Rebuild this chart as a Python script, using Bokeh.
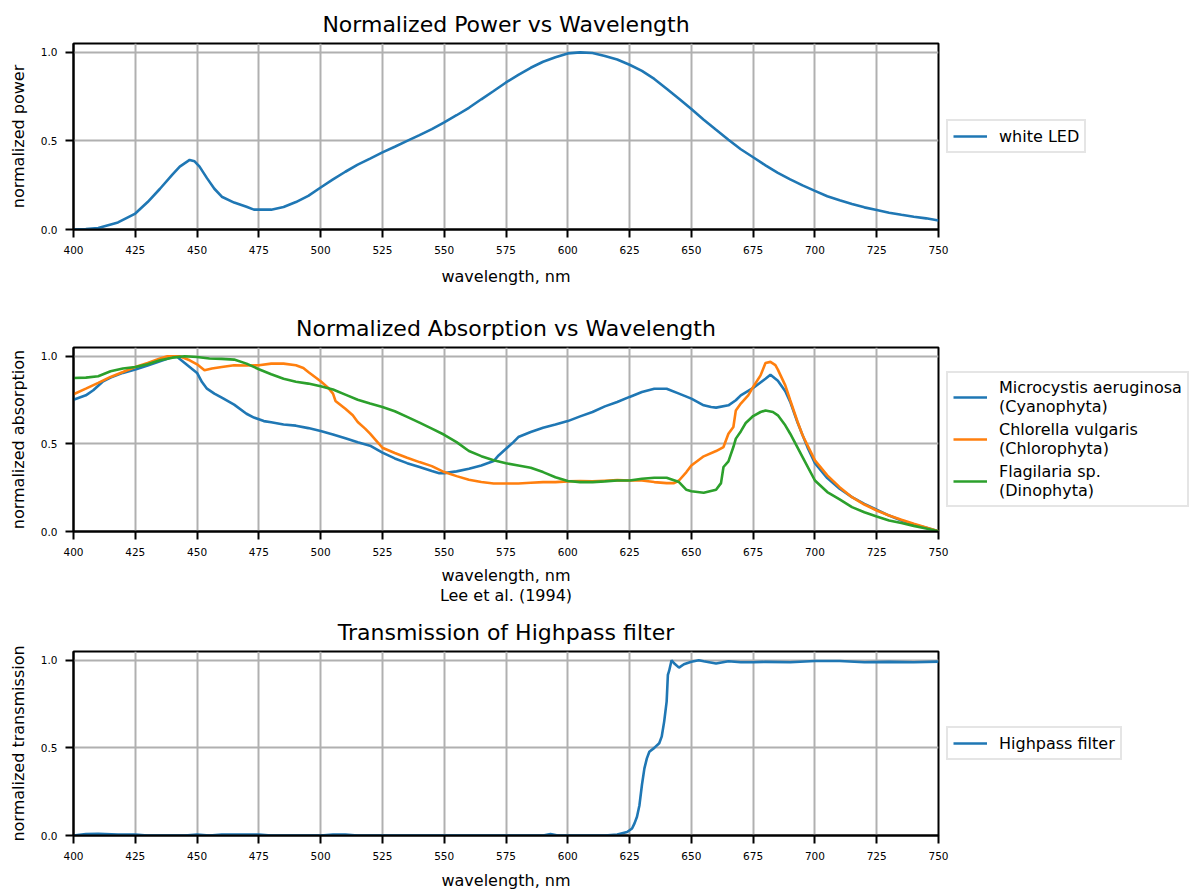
from bokeh.plotting import figure
from bokeh.layouts import column
from bokeh.models import (FixedTicker, PrintfTickFormatter, Legend, LegendItem,
                          Range1d)
from bokeh.embed import file_html
from bokeh.resources import INLINE

FONT = "DejaVu Sans"
C0, C1, C2 = "#1f77b4", "#ff7f0e", "#2ca02c"

# ---- white LED emission spectrum ----
led_nm = [400, 405, 410, 418, 425, 430, 435, 440, 443, 447, 449, 451, 454, 457,
          460, 465, 470, 473, 480, 485, 490, 495, 500, 505, 510, 515, 520, 525,
          530, 535, 540, 545, 550, 555, 560, 565, 570, 575, 580, 585, 590, 595,
          600, 605, 610, 615, 620, 625, 630, 635, 640, 645, 650, 655, 660, 665,
          670, 675, 680, 685, 690, 695, 700, 705, 710, 715, 720, 725, 730, 735,
          740, 745, 750]
led_power = [0.0, 0.002, 0.008, 0.04, 0.09, 0.155, 0.23, 0.31, 0.355, 0.393,
             0.385, 0.355, 0.29, 0.23, 0.185, 0.152, 0.128, 0.112, 0.112, 0.127,
             0.155, 0.19, 0.237, 0.283, 0.326, 0.366, 0.40, 0.435, 0.467, 0.50,
             0.533, 0.567, 0.605, 0.645, 0.687, 0.735, 0.782, 0.83, 0.873, 0.913,
             0.947, 0.972, 0.994, 1.0, 0.996, 0.98, 0.96, 0.93, 0.895, 0.85,
             0.795, 0.738, 0.68, 0.62, 0.563, 0.507, 0.453, 0.408, 0.362, 0.32,
             0.283, 0.249, 0.218, 0.188, 0.165, 0.144, 0.125, 0.11, 0.095, 0.083,
             0.072, 0.063, 0.051]

# ---- algae absorption spectra (Lee et al., 1994) ----
micro_nm = [400, 405, 408, 412, 415, 420, 425, 430, 435, 440, 442, 445, 450, 452,
            454, 457, 460, 465, 470, 473, 477, 480, 485, 490, 495, 500, 505, 510,
            515, 520, 525, 530, 535, 540, 545, 548, 550, 555, 560, 565, 570, 572,
            575, 578, 580, 585, 590, 595, 600, 605, 610, 615, 620, 625, 630, 635,
            640, 645, 650, 655, 658, 660, 665, 668, 670, 675, 680, 682, 685, 688,
            690, 693, 695, 697, 700, 705, 710, 715, 720, 725, 730, 735, 740, 745,
            750]
micro_abs = [0.752, 0.777, 0.806, 0.857, 0.878, 0.905, 0.924, 0.947, 0.971, 0.996,
             0.996, 0.962, 0.905, 0.853, 0.815, 0.787, 0.764, 0.724, 0.672, 0.65,
             0.63, 0.623, 0.611, 0.604, 0.59, 0.573, 0.554, 0.532, 0.509, 0.49,
             0.45, 0.417, 0.39, 0.368, 0.345, 0.333, 0.333, 0.343, 0.358, 0.377,
             0.402, 0.434, 0.472, 0.51, 0.539, 0.568, 0.592, 0.61, 0.63, 0.657,
             0.682, 0.714, 0.739, 0.768, 0.796, 0.815, 0.815, 0.787, 0.758, 0.72,
             0.71, 0.707, 0.72, 0.749, 0.777, 0.819, 0.872, 0.895, 0.86, 0.80,
             0.74, 0.62, 0.55, 0.48, 0.39, 0.305, 0.244, 0.196, 0.158, 0.124,
             0.091, 0.063, 0.04, 0.021, 0.002]

chlor_nm = [400, 405, 410, 415, 420, 425, 430, 435, 438, 443, 447, 450, 453, 456,
            460, 465, 470, 475, 480, 485, 490, 493, 495, 500, 503, 505, 506, 510,
            513, 515, 518, 520, 523, 525, 530, 535, 540, 545, 550, 555, 560, 565,
            570, 575, 580, 585, 590, 595, 600, 605, 610, 615, 620, 625, 630, 635,
            640, 643, 645, 648, 650, 655, 660, 663, 665, 667, 668, 670, 673, 675,
            678, 680, 682, 684, 685, 688, 690, 693, 695, 700, 705, 710, 715, 720,
            725, 730, 735, 740, 745, 750]
chlor_abs = [0.783, 0.815, 0.848, 0.882, 0.91, 0.939, 0.962, 0.987, 1.0, 1.0,
             0.977, 0.954, 0.92, 0.93, 0.939, 0.949, 0.947, 0.949, 0.958, 0.958,
             0.949, 0.933, 0.91, 0.857, 0.821, 0.787, 0.745, 0.70, 0.663, 0.625,
             0.587, 0.558, 0.51, 0.478, 0.448, 0.421, 0.396, 0.373, 0.339, 0.316,
             0.295, 0.282, 0.274, 0.274, 0.274, 0.278, 0.282, 0.282, 0.286, 0.288,
             0.286, 0.29, 0.293, 0.291, 0.291, 0.282, 0.276, 0.276, 0.291, 0.339,
             0.377, 0.429, 0.459, 0.482, 0.558, 0.596, 0.691, 0.73, 0.777, 0.825,
             0.891, 0.962, 0.968, 0.949, 0.924, 0.834, 0.749, 0.625, 0.549, 0.406,
             0.32, 0.253, 0.196, 0.154, 0.12, 0.091, 0.067, 0.044, 0.023, 0.002]

flag_nm = [400, 405, 410, 415, 420, 425, 430, 435, 440, 445, 450, 455, 460, 465,
           470, 475, 480, 485, 490, 495, 500, 505, 510, 515, 520, 525, 530, 535,
           540, 545, 550, 555, 560, 565, 570, 575, 580, 585, 590, 595, 600, 605,
           610, 615, 620, 625, 630, 635, 640, 645, 648, 650, 655, 660, 662, 663,
           665, 667, 668, 670, 672, 675, 678, 680, 683, 685, 688, 690, 695, 700,
           705, 710, 715, 720, 725, 730, 735, 740, 745, 750]
flag_abs = [0.876, 0.878, 0.886, 0.914, 0.93, 0.939, 0.954, 0.977, 0.992, 1.0,
            0.996, 0.987, 0.985, 0.981, 0.958, 0.926, 0.897, 0.872, 0.855, 0.844,
            0.829, 0.81, 0.781, 0.752, 0.73, 0.71, 0.686, 0.654, 0.621, 0.587,
            0.552, 0.51, 0.459, 0.43, 0.406, 0.389, 0.377, 0.364, 0.339, 0.31,
            0.288, 0.282, 0.282, 0.286, 0.291, 0.291, 0.301, 0.307, 0.307, 0.282,
            0.238, 0.23, 0.221, 0.238, 0.276, 0.368, 0.40, 0.482, 0.53, 0.571,
            0.619, 0.659, 0.682, 0.691, 0.682, 0.663, 0.606, 0.558, 0.425, 0.291,
            0.225, 0.183, 0.139, 0.11, 0.086, 0.063, 0.048, 0.032, 0.017, 0.002]

# ---- highpass filter transmission ----
hp_nm = [400, 405, 410, 418, 425, 430, 445, 450, 455, 460, 468, 475, 480, 500,
         505, 510, 515, 580, 590, 593, 596, 600, 615, 620, 624, 626, 627, 628,
         629, 630, 631, 632, 633, 635, 637, 638, 639, 640, 640.5, 641, 642, 643,
         645, 647, 650, 653, 655, 660, 665, 670, 675, 680, 690, 700, 710, 720,
         730, 740, 750]
hp_trans = [0.0, 0.008, 0.01, 0.006, 0.005, 0.0, 0.0, 0.005, 0.0, 0.005, 0.006,
            0.005, 0.0, 0.0, 0.006, 0.005, 0.0, 0.0, 0.0, 0.008, 0.0, 0.0, 0.0,
            0.006, 0.02, 0.04, 0.069, 0.107, 0.173, 0.288, 0.383, 0.44, 0.478,
            0.50, 0.526, 0.564, 0.65, 0.764, 0.916, 0.939, 1.0, 0.983, 0.958,
            0.977, 0.992, 1.0, 0.994, 0.981, 0.994, 0.989, 0.989, 0.991, 0.989,
            0.996, 0.996, 0.989, 0.991, 0.989, 0.992]

x_ticks = [400, 425, 450, 475, 500, 525, 550, 575, 600, 625, 650, 675, 700, 725, 750]
y_ticks = [0.0, 0.5, 1.0]


def make_panel(title, ylabel, xlabel, border_top, frame_h, border_bottom,
               xlabel_standoff=10):
    p = figure(frame_width=865, frame_height=frame_h,
               min_border_left=73, min_border_right=255,
               min_border_top=border_top, min_border_bottom=border_bottom,
               x_range=Range1d(400, 750), y_range=Range1d(0, 1.05),
               output_backend="svg", toolbar_location=None, title=title)
    p.title.text_font = FONT
    p.title.text_font_size = "22px"
    p.title.text_font_style = "normal"
    p.title.text_color = "black"
    p.title.align = "center"
    p.title.standoff = 14
    p.outline_line_color = "black"
    p.outline_line_width = 2
    p.background_fill_color = "white"
    p.border_fill_color = "white"

    p.xaxis.ticker = FixedTicker(ticks=x_ticks)
    p.yaxis.ticker = FixedTicker(ticks=y_ticks)
    p.yaxis.formatter = PrintfTickFormatter(format="%.1f")
    p.xaxis.axis_label = xlabel
    p.yaxis.axis_label = ylabel
    for ax in (p.xaxis, p.yaxis):
        ax.axis_line_color = "black"
        ax.axis_line_width = 2
        ax.major_tick_in = 0
        ax.major_tick_out = 8
        ax.major_tick_line_width = 2
        ax.major_tick_line_color = "black"
        ax.minor_tick_line_color = None
        ax.major_label_text_font = FONT
        ax.major_label_text_font_size = "10.5px"
        ax.major_label_text_color = "black"
        ax.major_label_standoff = 8
        ax.axis_label_text_font = FONT
        ax.axis_label_text_font_size = "16px"
        ax.axis_label_text_font_style = "normal"
        ax.axis_label_text_color = "black"
        ax.axis_label_standoff = 10
    p.xaxis.axis_label_standoff = xlabel_standoff
    p.xaxis.axis_label_text_line_height = 1.1
    p.xgrid.ticker = FixedTicker(ticks=x_ticks)
    p.ygrid.ticker = FixedTicker(ticks=y_ticks)
    p.grid.grid_line_color = "#b0b0b0"
    p.grid.grid_line_width = 2
    return p


def add_legend(p, items):
    leg = Legend(items=items, location="center_left")
    leg.label_text_font = FONT
    leg.label_text_font_size = "16px"
    leg.label_text_color = "black"
    leg.glyph_width = 34
    leg.glyph_height = 20
    leg.label_standoff = 12
    leg.padding = 5
    leg.spacing = 4
    leg.margin = 8
    leg.border_line_color = "#cccccc"
    leg.border_line_width = 2
    leg.background_fill_color = "white"
    leg.background_fill_alpha = 1.0
    p.add_layout(leg, "right")


LW = 2.6

# top: LED spectrum
p1 = make_panel("Normalized Power vs Wavelength", "normalized power",
                "wavelength, nm", 43, 186, 71)
r_led = p1.line(led_nm, led_power, line_color=C0, line_width=LW)
add_legend(p1, [LegendItem(label="white LED", renderers=[r_led])])

# middle: absorption spectra
p2 = make_panel("Normalized Absorption vs Wavelength", "normalized absorption",
                "wavelength, nm\nLee et al. (1994)", 47, 184, 79,
                xlabel_standoff=7)
r_mic = p2.line(micro_nm, micro_abs, line_color=C0, line_width=LW)
r_chl = p2.line(chlor_nm, chlor_abs, line_color=C1, line_width=LW)
r_fla = p2.line(flag_nm, flag_abs, line_color=C2, line_width=LW)
add_legend(p2, [
    LegendItem(label="Microcystis aeruginosa\n(Cyanophyta)", renderers=[r_mic]),
    LegendItem(label="Chlorella vulgaris\n(Chlorophyta)", renderers=[r_chl]),
    LegendItem(label="Flagilaria sp.\n(Dinophyta)", renderers=[r_fla]),
])

# bottom: highpass filter
p3 = make_panel("Transmission of Highpass filter", "normalized transmission",
                "wavelength, nm", 40, 184, 54, xlabel_standoff=8)
r_hp = p3.line(hp_nm, hp_trans, line_color=C0, line_width=LW)
add_legend(p3, [LegendItem(label="Highpass filter", renderers=[r_hp])])

layout = column(p1, p2, p3, spacing=0)
open("out.html", "w").write(file_html(layout, INLINE))
